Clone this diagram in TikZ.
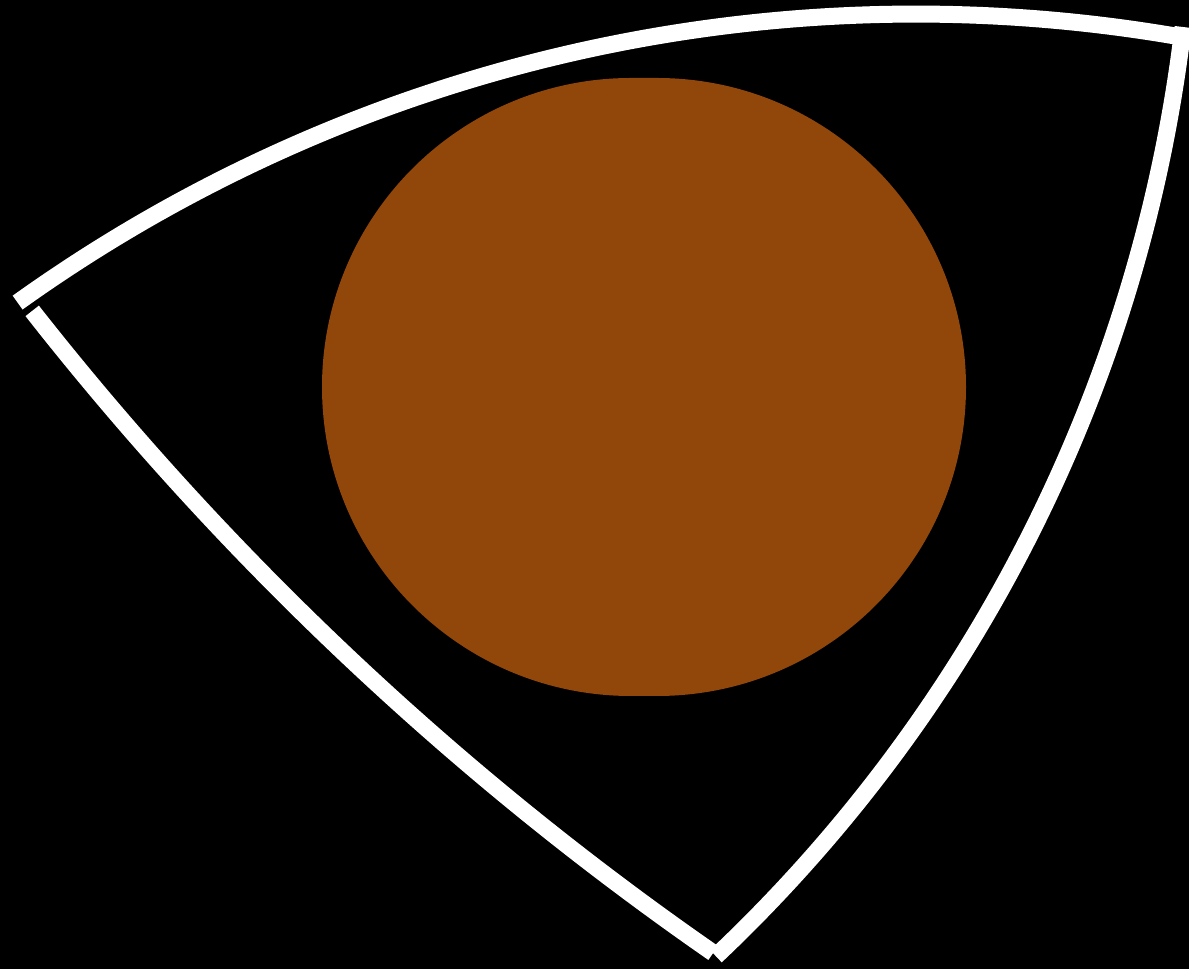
\documentclass[tikz,border=0pt]{standalone}
\definecolor{rim}{RGB}{255,255,255}
\definecolor{eyebrown}{RGB}{145,70,10}
\tikzset{
  rimline/.style={draw=rim, line width=17pt, line cap=butt},
  iris/.style={fill=eyebrown, draw=none}
}
\begin{document}
\begin{tikzpicture}[x=1pt,y=1pt]
  \fill[black] (0,0) rectangle (1189,969);
  \useasboundingbox (0,0) rectangle (1189,969);
  % centres of the three arcs
  \coordinate (ctop) at (916,-588);
  \coordinate (cright) at (-331.3,1121.35);
  \coordinate (cleft) at (2504,2597.6);
  % brown disc
  \path[iris] (631,891) -- (657,891) arc[start angle=90, end angle=-90, radius=309pt]
     -- (631,273) arc[start angle=270, end angle=90, radius=309pt] -- cycle;
  % white rims
  \draw[rimline] ([shift={(125.61:1543pt)}]ctop) arc[start angle=125.61, end angle=80.32, radius=1543pt];
  \draw[rimline] ([shift={(-6.755:1525pt)}]cright) arc[start angle=-6.755, end angle=-46.63, radius=1525pt];
  \draw[rimline] ([shift={(218.12:3142pt)}]cleft) arc[start angle=218.12, end angle=235.25, radius=3142pt];
\end{tikzpicture}
\end{document}
